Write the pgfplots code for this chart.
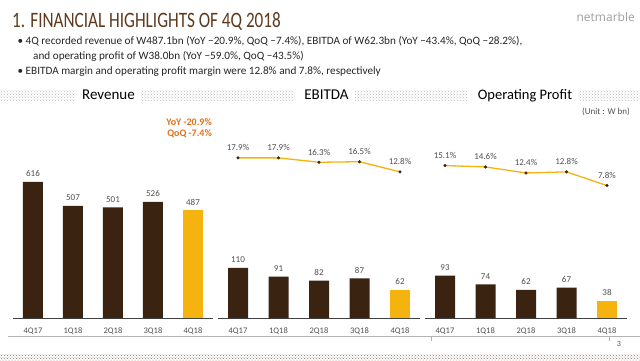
\documentclass[border=0pt]{standalone}
\usepackage{fontspec}
\setmainfont{Carlito}
\newfontfamily\titlefont[FakeStretch=0.78]{Carlito}
\newfontfamily\logofont{Open Sans}
\usepackage{pgfplots}
\pgfplotsset{compat=1.18}
\usetikzlibrary{patterns}
\definecolor{dbrown}{HTML}{3B2312}
\definecolor{gold}{HTML}{F5B30F}
\definecolor{tbrown}{HTML}{5E3B1E}
\definecolor{orng}{HTML}{E07020}
\definecolor{lbl}{HTML}{505050}
\definecolor{axl}{HTML}{404040}
\definecolor{bandgray}{HTML}{B8B8B8}
\definecolor{bandbrown}{HTML}{8C7460}
\pgfplotsset{
  /pgf/number format/assume math mode=true,
  barax/.style={scale only axis, anchor=south west, width=202.5pt,
    xmin=-0.5, xmax=4.5, ymin=0, clip=false,
    axis x line*=bottom, axis y line=none,
    x axis line style={-, draw=axl, line width=0.9pt},
    xtick={0,...,4}, xticklabels={4Q17,1Q18,2Q18,3Q18,4Q18},
    major tick length=0pt,
    xticklabel style={font=\fontsize{8.5}{10}\selectfont, text=lbl, anchor=center, yshift=-13pt},
    ytick=\empty, ybar, bar width=20pt,
    nodes near coords,
    nodes near coords style={font=\fontsize{9}{10}\selectfont, text=lbl, anchor=center, yshift=8pt}},
  lineax/.style={scale only axis, anchor=south west, width=202.5pt, height=54.9pt,
    xmin=-0.5, xmax=4.5, ymin=0, ymax=20, clip=false, hide axis},
  mline/.style={draw=gold, line width=1.3pt, mark=*, mark size=1.4pt,
    mark options={draw=dbrown, fill=dbrown, line width=0.3pt},
    nodes near coords={\pgfmathprintnumber[fixed,precision=1,fixed zerofill]{\pgfplotspointmeta}\%},
    nodes near coords style={font=\fontsize{9}{10}\selectfont, text=lbl, anchor=center, yshift=10pt}},
}
\begin{document}
\begin{tikzpicture}[x=1pt,y=1pt]
\path[use as bounding box, fill=white] (0,0) rectangle (640,360);
% title
\node[anchor=base west, inner sep=0, text=tbrown, font=\titlefont\fontsize{22}{24}\selectfont] at (12,333) {1. FINANCIAL HIGHLIGHTS OF 4Q 2018};
\node[anchor=base east, inner sep=0, text=gray!75, font=\logofont\fontsize{12}{14}\selectfont] at (635,339) {netmarble};
% bullets
\begin{scope}[every node/.style={anchor=base west, inner sep=0, text=black!85, font=\fontsize{11.2}{13}\selectfont}]
\node at (17.5,315.5) {\textbullet};
\node at (25.5,315.5) {4Q recorded revenue of W487.1bn (YoY −20.9\%, QoQ −7.4\%), EBITDA of W62.3bn (YoY −43.4\%, QoQ −28.2\%),};
\node at (33,300.5) {and operating profit of W38.0bn (YoY −59.0\%, QoQ −43.5\%)};
\node at (17.5,285.5) {\textbullet};
\node at (25.5,285.5) {EBITDA margin and operating profit margin were 12.8\% and 7.8\%, respectively};
\end{scope}
% header band
\foreach \a/\b in {0/75,140/295,355/467,578/640}{
  \fill[pattern=crosshatch dots, pattern color=bandgray] (\a,260) rectangle (\b,270);
}
\node[font=\fontsize{15}{16}\selectfont, inner sep=0] at (108.5,265) {Revenue};
\node[font=\fontsize{15}{16}\selectfont, inner sep=0] at (326.5,265.5) {EBITDA};
\node[font=\fontsize{14.5}{16}\selectfont, inner sep=0] at (525,264.5) {Operating Profit};
\node[anchor=east, inner sep=0, text=lbl, font=\fontsize{9}{10}\selectfont] at (630,248) {(Unit : W bn)};
% YoY note
\node[anchor=east, inner sep=0, text=orng, font=\bfseries\fontsize{10}{12}\selectfont] at (212,238) {YoY -20.9\%};
\node[anchor=east, inner sep=0, text=orng, font=\bfseries\fontsize{10}{12}\selectfont] at (212,226) {QoQ -7.4\%};
% bottom
\draw[gray!60, line width=0.7pt] (8,24) -- (640,24);
\draw[gray!60, line width=0.6pt] (431,24) -- (431,19);
\draw[gray!60, line width=0.6pt] (609,24) -- (609,19);
\node[text=lbl, font=\fontsize{8}{9}\selectfont, inner sep=0] at (619,16) {3};
\fill[pattern=crosshatch dots, pattern color=bandbrown] (0,0) rectangle (640,5.5);
% Revenue
\begin{axis}[barax, at={(13pt,42pt)}, width=200pt, height=176.8pt, ymax=800]
\addplot[fill=dbrown, draw=none, bar shift=0pt] coordinates {(0,616) (1,507) (2,501) (3,526)};
\addplot[fill=gold, draw=none, bar shift=0pt] coordinates {(4,487)};
\end{axis}
% EBITDA
\begin{axis}[barax, at={(217.75pt,42pt)}, height=136.5pt, ymax=300]
\addplot[fill=dbrown, draw=none, bar shift=0pt] coordinates {(0,110) (1,91) (2,82) (3,87)};
\addplot[fill=gold, draw=none, bar shift=0pt] coordinates {(4,62)};
\end{axis}
\begin{axis}[lineax, at={(217.75pt,153pt)}]
\addplot[mline] coordinates {(0,17.9) (1,17.9) (2,16.3) (3,16.5) (4,12.8)};
\end{axis}
% Operating profit
\begin{axis}[barax, at={(424.75pt,42pt)}, height=136.5pt, ymax=300]
\addplot[fill=dbrown, draw=none, bar shift=0pt] coordinates {(0,93) (1,74) (2,62) (3,67)};
\addplot[fill=gold, draw=none, bar shift=0pt] coordinates {(4,38)};
\end{axis}
\begin{axis}[lineax, at={(424.75pt,153pt)}]
\addplot[mline] coordinates {(0,15.1) (1,14.6) (2,12.4) (3,12.8) (4,7.8)};
\end{axis}
\end{tikzpicture}
\end{document}
